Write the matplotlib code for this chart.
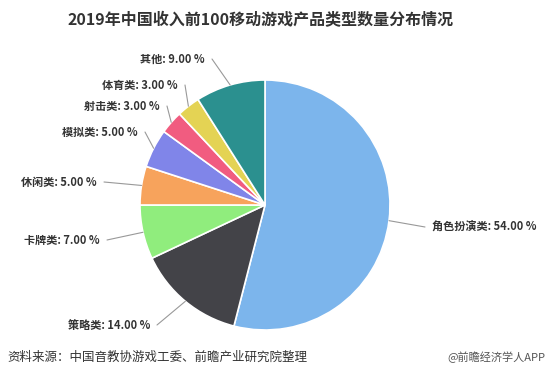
import numpy as np
import matplotlib
matplotlib.use("Agg")
import matplotlib.pyplot as plt

plt.rcParams['font.family'] = ['Noto Sans CJK SC', 'DejaVu Sans']

categories = ['角色扮演类', '策略类', '卡牌类', '休闲类', '模拟类', '射击类', '体育类', '其他']
values = [54.0, 14.0, 7.0, 5.0, 5.0, 3.0, 3.0, 9.0]
colors = ['#7cb5ec', '#434348', '#90ed7d', '#f7a35c', '#8085e9', '#f15c80', '#e4d354', '#2b908f']
title = '2019年中国收入前100移动游戏产品类型数量分布情况'
source = '资料来源：中国音教协游戏工委、前瞻产业研究院整理'
credit = '@前瞻经济学人APP'

W, H = 549, 379
fig = plt.figure(figsize=(W / 100, H / 100), dpi=100)
ax = fig.add_axes([0, 0, 1, 1])
ax.set_xlim(0, W)
ax.set_ylim(0, H)
ax.set_aspect('equal')
ax.axis('off')

cx, cy, r = 265, H - 205, 125
wedges, _ = ax.pie(values, colors=colors, startangle=90, counterclock=False,
                   center=(cx, cy), radius=r, frame=True,
                   wedgeprops=dict(edgecolor='white', linewidth=1.2))
ax.set_xlim(0, W)
ax.set_ylim(0, H)
ax.axis('off')

# label anchor (pixel coords from top-left): text x, text y, ha
label_pos = [
    (432, 227, 'left'),
    (150, 325, 'right'),
    (100, 240, 'right'),
    (97, 182, 'right'),
    (138, 132, 'right'),
    (160, 106, 'right'),
    (178, 85, 'right'),
    (205, 59, 'right'),
]

for w, cat, v, (tx, ty, ha) in zip(wedges, categories, values, label_pos):
    mid = np.deg2rad((w.theta1 + w.theta2) / 2)
    ex, ey = cx + r * np.cos(mid), cy + r * np.sin(mid)
    ty2 = H - ty
    lx = tx - 7 if ha == 'left' else tx + 7
    ax.plot([ex, lx], [ey, ty2], color='#999999', lw=0.8, solid_capstyle='round')
    ax.text(tx, ty2, f'{cat}: {v:.2f} %', ha=ha, va='center', fontsize=8,
            fontweight='bold', color='#333333')

ax.text(261, H - 20, title, ha='center', va='center', fontsize=11.5,
        fontweight='bold', color='#333333')
ax.text(7, H - 357, source, ha='left', va='center', fontsize=9, color='#333333')
ax.text(545, H - 357, credit, ha='right', va='center', fontsize=8, color='#555555')

fig.savefig('out.png', dpi=100)
